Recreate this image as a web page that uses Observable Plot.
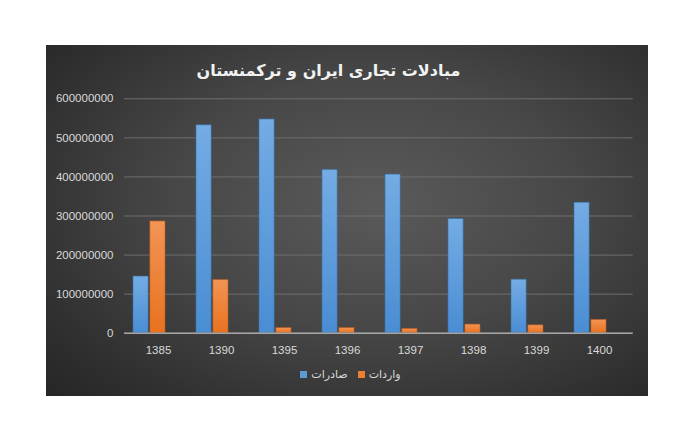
<!DOCTYPE html>
<html>
<head>
<meta charset="utf-8">
<script src="https://cdn.jsdelivr.net/npm/d3@7"></script>
<script src="https://cdn.jsdelivr.net/npm/@observablehq/plot@0.6"></script>
<style>
  html, body { margin: 0; padding: 0; background: #ffffff; }
  body { width: 700px; height: 448px; position: relative; overflow: hidden; }
  #panel {
    position: absolute; left: 46px; top: 45px; width: 602px; height: 351px;
    background: radial-gradient(ellipse 75% 80% at 55% 45%, #5a5a5a 0%, #474747 45%, #2e2e2e 85%, #262626 100%);
    overflow: hidden;
  }
  #title {
    position: absolute; left: 0; top: 16px; width: 565px; text-align: center;
    font-family: "DejaVu Sans", sans-serif; font-weight: bold; font-size: 16px;
    color: #f2f2f2; direction: rtl;
  }
  #chart { position: absolute; left: 0; top: 0; }
  #legend {
    position: absolute; left: 0; top: 323px; width: 609px; text-align: center;
    font-family: "DejaVu Sans", sans-serif; font-size: 11px; color: #d9d9d9;
  }
  #legend .item { display: inline-flex; align-items: center; margin: 0 5px; direction: ltr; }
  #legend .sw { width: 7px; height: 7px; display: inline-block; margin-right: 4px; }
</style>
</head>
<body>
<div id="panel">
  <div id="chart"></div>
  <div id="title"></div>
  <div id="legend"></div>
</div>
<script>
const titleText = "مبادلات تجاری ایران و ترکمنستان";
const years = ["1385", "1390", "1395", "1396", "1397", "1398", "1399", "1400"];
const exportsVals = [145000000, 532000000, 547000000, 418000000, 406000000, 292000000, 137000000, 334000000];
const importsVals = [286000000, 136000000, 13000000, 13000000, 11000000, 22000000, 20000000, 34000000];
const seriesNames = ["صادرات", "واردات"];
const seriesColors = ["#5b9bd5", "#ed7d31"];
const yTicks = [0, 100000000, 200000000, 300000000, 400000000, 500000000, 600000000];

const expData = years.map((y, i) => ({year: y, value: exportsVals[i]}));
const impData = years.map((y, i) => ({year: y, value: importsVals[i]}));

document.getElementById("title").textContent = titleText;

const font = "'Liberation Sans', Arial, sans-serif";
const plot = Plot.plot({
  width: 602,
  height: 320,
  marginLeft: 78,
  marginRight: 15.3,
  marginTop: 53.3,
  marginBottom: 32.3,
  style: {background: "transparent", color: "#d9d9d9", fontFamily: font, fontSize: "11.5px", overflow: "visible"},
  x: {domain: years, paddingInner: 0.5, paddingOuter: 0.25, label: null, tickSize: 0, tickPadding: 13},
  y: {domain: [0, 600000000], ticks: yTicks, label: null, tickSize: 0, tickPadding: 11, tickFormat: d3.format("d")},
  marks: [
    Plot.gridY(yTicks, {stroke: "#6e6e6e", strokeOpacity: 1, strokeWidth: 1}),
    Plot.barY(expData, {x: "year", y: "value", fill: "url(#gradBlue)", stroke: "#3a73a8", strokeWidth: 0.6, insetRight: 16.9, insetLeft: 0, dx: -9}),
    Plot.barY(impData, {x: "year", y: "value", fill: "url(#gradOrange)", stroke: "#b85c1e", strokeWidth: 0.6, insetLeft: 16.9, insetRight: 0, dx: -9}),
    Plot.ruleY([0], {stroke: "#a6a6a6", strokeWidth: 1.5}),
    Plot.axisX({tickSize: 0, tickPadding: 13, label: null, fill: "#d9d9d9"}),
    Plot.axisY({ticks: yTicks, tickSize: 0, tickPadding: 11, label: null, tickFormat: d3.format("d"), fill: "#d9d9d9"})
  ]
});

const ns = "http://www.w3.org/2000/svg";
const defs = document.createElementNS(ns, "defs");
function addGrad(id, top, bottom) {
  const g = document.createElementNS(ns, "linearGradient");
  g.setAttribute("id", id);
  g.setAttribute("x1", "0"); g.setAttribute("y1", "0");
  g.setAttribute("x2", "0"); g.setAttribute("y2", "1");
  const s1 = document.createElementNS(ns, "stop");
  s1.setAttribute("offset", "0"); s1.setAttribute("stop-color", top);
  const s2 = document.createElementNS(ns, "stop");
  s2.setAttribute("offset", "1"); s2.setAttribute("stop-color", bottom);
  g.appendChild(s1); g.appendChild(s2);
  defs.appendChild(g);
}
addGrad("gradBlue", "#74ace4", "#4a8dd3");
addGrad("gradOrange", "#f39455", "#e8721f");
plot.insertBefore(defs, plot.firstChild);
document.getElementById("chart").appendChild(plot);

const legend = document.getElementById("legend");
seriesNames.forEach((name, i) => {
  const item = document.createElement("span");
  item.className = "item";
  const sw = document.createElement("span");
  sw.className = "sw";
  sw.style.background = seriesColors[i];
  const tx = document.createElement("span");
  tx.textContent = name;
  item.appendChild(sw);
  item.appendChild(tx);
  legend.appendChild(item);
});
</script>
</body>
</html>
